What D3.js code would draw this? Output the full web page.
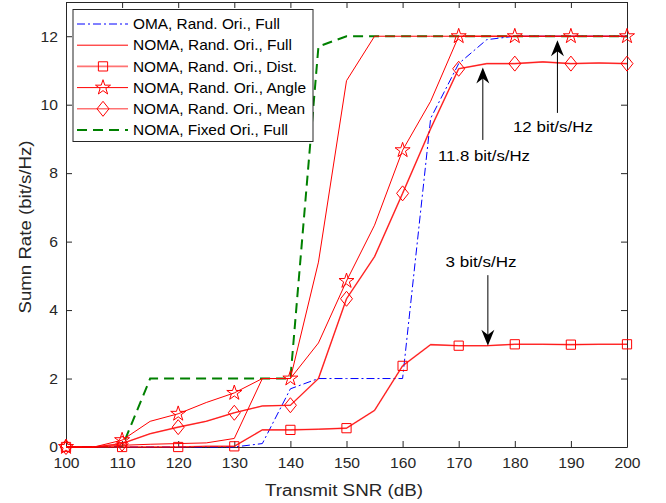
<!DOCTYPE html>
<html>
<head>
<meta charset="utf-8">
<script src="https://cdn.jsdelivr.net/npm/d3@7"></script>
<style>
  body { margin: 0; background: #fff; }
  svg text { font-family: Arial, "Liberation Sans", sans-serif; fill: #262626; }
</style>
</head>
<body>
<div id="chart"></div>
<script>
// x values (dB) shared by all curves
const snr = [100,105,110,115,120,125,130,135,140,145,150,155,160,165,170,175,180,185,190,195,200];

const omaFull     = [0,0,0,0,0,0,0,0.1,1.7,2,2,2,2,9.6,11.2,11.9,12,12,12,12,12];
const nomaFull    = [0,0,0.05,0.08,0.1,0.12,0.25,2,2,5.4,10.7,12,12,12,12,12,12,12,12,12,12];
const nomaDist    = [0,0,0,0,0,0.02,0.02,0.5,0.5,0.52,0.55,1.07,2.37,2.99,2.96,2.96,3.0,3.0,2.99,3.0,3.0];
const nomaAngle   = [0,0,0.2,0.75,0.97,1.3,1.58,2,2,3.04,4.85,6.48,8.67,10.1,12,12,12,12,12,12,12];
const nomaMean    = [0,0,0.1,0.39,0.58,0.75,1.0,1.2,1.22,2.0,4.33,5.56,7.41,9.3,11.05,11.2,11.2,11.25,11.2,11.22,11.2];
const fixedFull   = [0,0,0,2,2,2,2,2,2,11.7,12,12,12,12,12,12,12,12,12,12,12];

const xTicks = [100,110,120,130,140,150,160,170,180,190,200];
const yTicks = [0,2,4,6,8,10,12];

const legendLabels = [
  "OMA, Rand. Ori., Full",
  "NOMA, Rand. Ori., Full",
  "NOMA, Rand. Ori., Dist.",
  "NOMA, Rand. Ori., Angle",
  "NOMA, Rand. Ori., Mean",
  "NOMA, Fixed Ori., Full"
];
const legendWidths = [147, 159, 164, 173, 172, 155];

// arrow at (x, y) pointing to value, starting from `from`; text centred at (tx, ty)
const notes = [
  {text: "12 bit/s/Hz",   x: 187.6, y: 12,   from: 9.76, tx: 186.8, ty: 9.2,  w: 80},
  {text: "11.8 bit/s/Hz", x: 174.3, y: 11.2, from: 8.97, tx: 174.5, ty: 8.35, w: 92},
  {text: "3 bit/s/Hz",    x: 175.2, y: 3.0,  from: 5.02, tx: 174.0, ty: 5.26, w: 71}
];

const W = 666, H = 503;
const m = {left: 66, right: 39, top: 2, bottom: 56};

const svg = d3.select("#chart").append("svg")
  .attr("width", W).attr("height", H);

const x = d3.scaleLinear().domain([100, 200]).range([m.left, W - m.right]);
const y = d3.scaleLinear().domain([0, 13]).range([H - m.bottom, m.top]);

const axisColor = "#262626";
const tickLen = 6;
const fontFam = "Arial, 'Liberation Sans', sans-serif";

// pin a text's drawn width to what the reference shows
function pinWidth(sel, w) {
  return sel.attr("textLength", w).attr("lengthAdjust", "spacingAndGlyphs");
}

// axes with inward ticks, boxed
const gx = svg.append("g").attr("transform", `translate(0,${y(0)})`)
  .call(d3.axisBottom(x).tickValues(xTicks).tickSizeInner(-tickLen).tickSizeOuter(0).tickPadding(10));
const gxTop = svg.append("g").attr("transform", `translate(0,${y(13)})`)
  .call(d3.axisTop(x).tickValues(xTicks).tickSizeInner(-tickLen).tickSizeOuter(0).tickFormat(""));
const gy = svg.append("g").attr("transform", `translate(${x(100)},0)`)
  .call(d3.axisLeft(y).tickValues(yTicks).tickSizeInner(-tickLen).tickSizeOuter(0).tickPadding(8));
const gyR = svg.append("g").attr("transform", `translate(${x(200)},0)`)
  .call(d3.axisRight(y).tickValues(yTicks).tickSizeInner(-tickLen).tickSizeOuter(0).tickFormat(""));

[gx, gxTop, gy, gyR].forEach(g => {
  g.attr("font-family", null).attr("font-size", null);
  g.selectAll("path.domain").attr("stroke", axisColor).attr("stroke-width", 1);
  g.selectAll(".tick line").attr("stroke", axisColor);
  g.selectAll("text").attr("fill", axisColor)
    .style("font-family", fontFam).style("font-size", "15px")
    .each(function () { pinWidth(d3.select(this), this.textContent.length * 8.7); });
});

pinWidth(svg.append("text")
  .attr("x", 344).attr("y", 496)
  .attr("text-anchor", "middle").style("font-size", "16px")
  .text("Transmit SNR (dB)"), 158);

pinWidth(svg.append("text")
  .attr("transform", `translate(31,227) rotate(-90)`)
  .attr("text-anchor", "middle").style("font-size", "16px")
  .text("Sumn Rate (bit/s/Hz)"), 173);

const line = d3.line().x((d, i) => x(snr[i])).y(d => y(d));
const plot = svg.append("g");

const series = [
  {data: omaFull,   stroke: "#0000ff", width: 1,   dash: "8,3,2,3", opacity: 1,   marker: null},
  {data: nomaFull,  stroke: "#ff0000", width: 1,   dash: null,      opacity: 1,   marker: null},
  {data: nomaDist,  stroke: "#ff0000", width: 1.6, dash: null,      opacity: 0.55, marker: "square"},
  {data: nomaAngle, stroke: "#ff0000", width: 1,   dash: null,      opacity: 1,   marker: "star"},
  {data: nomaMean,  stroke: "#ff0000", width: 1.6, dash: null,      opacity: 0.55, marker: "diamond"},
  {data: fixedFull, stroke: "#008000", width: 2,   dash: "10,6",    opacity: 1,   marker: null}
];

const symbols = {
  square: d3.symbol().type(d3.symbolSquare).size(85),
  star: d3.symbol().type(d3.symbolStar).size(70)
};

function markerPath(type) {
  if (type === "diamond") return "M0,-7.5L6,0L0,7.5L-6,0Z";
  if (type === "star") return symbols.star();
  return symbols.square();
}

// draw order: fixed first under the others so red stars sit on top
const order = [5, 0, 1, 2, 4, 3];
order.forEach(k => {
  const s = series[k];
  plot.append("path")
    .attr("d", line(s.data))
    .attr("fill", "none")
    .attr("stroke", s.stroke)
    .attr("stroke-width", s.width)
    .attr("stroke-opacity", s.opacity)
    .attr("stroke-dasharray", s.dash);
});
// thin red centre line on top of the pale ones
[2, 4].forEach(k => {
  plot.append("path").attr("d", line(series[k].data))
    .attr("fill", "none").attr("stroke", "#ff0000").attr("stroke-width", 0.8);
});
[2, 3, 4].forEach(k => {
  const s = series[k];
  plot.selectAll(null)
    .data(s.data.map((v, i) => ({v, sx: snr[i]})).filter(d => d.sx % 10 === 0))
    .enter().append("path")
    .attr("transform", d => `translate(${x(d.sx)},${y(d.v)})`)
    .attr("d", markerPath(s.marker))
    .attr("fill", "none")
    .attr("stroke", "#ff0000")
    .attr("stroke-width", 1);
});

// annotations with MATLAB-like arrows
function arrowHead(x0, y0, dir) {
  // dir = +1 pointing up, -1 pointing down
  const L = 16, Wd = 6.5, notch = 5;
  const p = [
    [x0, y0],
    [x0 - Wd, y0 + dir * L],
    [x0, y0 + dir * (L - notch)],
    [x0 + Wd, y0 + dir * L]
  ];
  return "M" + p.map(q => q.join(",")).join("L") + "Z";
}
notes.forEach(n => {
  const px = x(n.x);
  const dir = n.from < n.y ? 1 : -1;
  const tipY = y(n.y) + (dir > 0 ? 4 : 1.5);
  svg.append("line").attr("x1", px).attr("x2", px)
    .attr("y1", y(n.from)).attr("y2", tipY + dir * 10)
    .attr("stroke", "#000").attr("stroke-width", 1);
  svg.append("path").attr("d", arrowHead(px, tipY, dir)).attr("fill", "#000");
  pinWidth(svg.append("text").attr("x", x(n.tx)).attr("y", y(n.ty))
    .attr("text-anchor", "middle").style("font-size", "15px").style("fill", "#000")
    .text(n.text), n.w);
});

// legend
const lg = svg.append("g").attr("transform", "translate(73,9.5)");
lg.append("rect").attr("width", 240).attr("height", 132)
  .attr("fill", "#fff").attr("stroke", axisColor).attr("stroke-width", 1);
legendLabels.forEach((lab, i) => {
  const s = series[i];
  const cy = 14.5 + i * 21.2;
  lg.append("line").attr("x1", 4).attr("x2", 55).attr("y1", cy).attr("y2", cy)
    .attr("stroke", s.stroke).attr("stroke-width", s.width)
    .attr("stroke-opacity", s.opacity).attr("stroke-dasharray", s.dash);
  if (s.marker) {
    lg.append("path").attr("transform", `translate(30,${cy})`)
      .attr("d", markerPath(s.marker)).attr("fill", "none")
      .attr("stroke", "#ff0000").attr("stroke-width", 1);
  }
  pinWidth(lg.append("text").attr("x", 60).attr("y", cy + 5.2)
    .style("font-size", "14.5px").style("fill", "#000").text(lab), legendWidths[i]);
});
</script>
</body>
</html>
